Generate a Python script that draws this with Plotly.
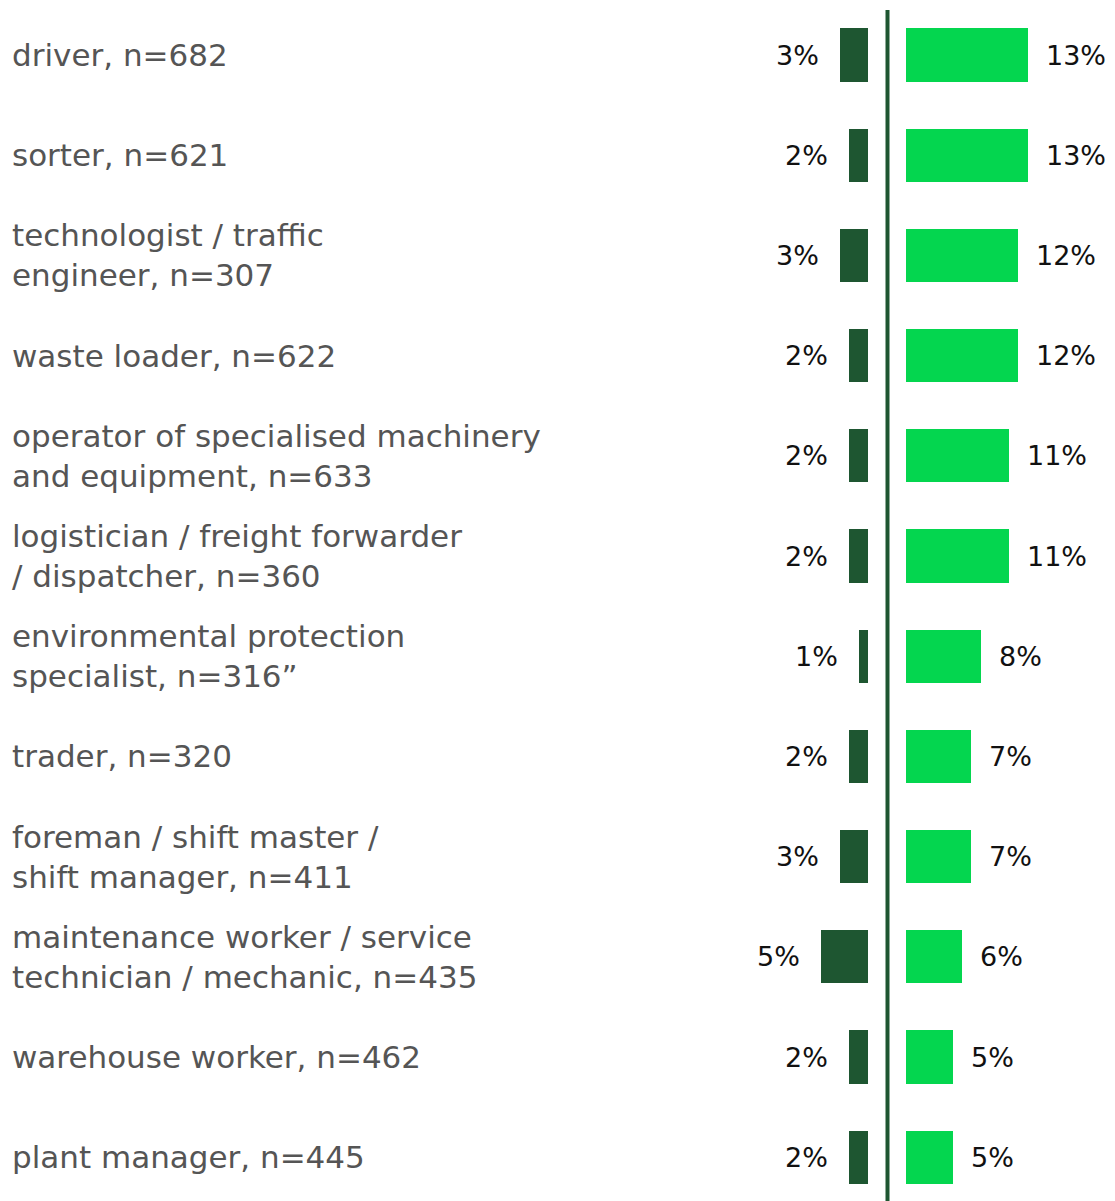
import plotly.graph_objects as go

categories = [
    "driver, n=682",
    "sorter, n=621",
    "technologist / traffic<br>engineer, n=307",
    "waste loader, n=622",
    "operator of specialised machinery<br>and equipment, n=633",
    "logistician / freight forwarder<br>/ dispatcher, n=360",
    "environmental protection<br>specialist, n=316”",
    "trader, n=320",
    "foreman / shift master /<br>shift manager, n=411",
    "maintenance worker / service<br>technician / mechanic, n=435",
    "warehouse worker, n=462",
    "plant manager, n=445",
]
left_values = [3, 2, 3, 2, 2, 2, 1, 2, 3, 5, 2, 2]
right_values = [13, 13, 12, 12, 11, 11, 8, 7, 7, 6, 5, 5]

DARK = "#1e5631"
BRIGHT = "#04d64f"
# page has an 8px body margin, so the figure is drawn 8px in from the window edge
OFF = 8
W, H = 1115 - OFF, 1201 - OFF
PX_PER_PCT = 9.35
ROW_PX = 100.2
FIRST_ROW_PX = 55 - OFF  # centre of first row, figure pixels

rows = list(range(len(categories)))

fig = go.Figure()
fig.add_trace(go.Bar(
    x=left_values, y=rows, orientation="h", xaxis="x", yaxis="y",
    marker=dict(color=DARK, line=dict(width=0)), width=0.53,
    hoverinfo="skip",
))
fig.add_trace(go.Bar(
    x=right_values, y=rows, orientation="h", xaxis="x2", yaxis="y",
    marker=dict(color=BRIGHT, line=dict(width=0)), width=0.53,
    hoverinfo="skip",
))

LABEL_FONT = dict(family="DejaVu Sans", size=31, color="#555555")
PCT_FONT = dict(family="DejaVu Sans", size=27, color="#111111")

annotations = []
for i, label in enumerate(categories):
    annotations.append(dict(
        text=label, xref="paper", x=(10 - OFF) / W, yref="y", y=i,
        xanchor="left", yanchor="middle", align="left", showarrow=False,
        font=LABEL_FONT,
    ))
for i, v in enumerate(left_values):
    annotations.append(dict(
        text=f"{v}%", xref="x", x=v, yref="y", y=i, xanchor="right",
        xshift=-19, showarrow=False, font=PCT_FONT,
    ))
for i, v in enumerate(right_values):
    annotations.append(dict(
        text=f"{v}%", xref="x2", x=v, yref="y", y=i, xanchor="left",
        xshift=16, showarrow=False, font=PCT_FONT,
    ))

left_start = 600 - OFF
left_end = 868 - OFF
right_start = 906 - OFF

fig.update_layout(
    width=W, height=H,
    margin=dict(l=0, r=0, t=0, b=0),
    paper_bgcolor="white", plot_bgcolor="white",
    showlegend=False, bargap=0,
    xaxis=dict(domain=[left_start / W, left_end / W],
               range=[(left_end - left_start) / PX_PER_PCT, 0],
               visible=False, fixedrange=True),
    xaxis2=dict(domain=[right_start / W, 1],
                range=[0, (W - right_start) / PX_PER_PCT],
                visible=False, fixedrange=True),
    yaxis=dict(range=[(H - FIRST_ROW_PX) / ROW_PX, -FIRST_ROW_PX / ROW_PX],
               visible=False, fixedrange=True),
    annotations=annotations,
    shapes=[dict(type="line", xref="paper", yref="paper",
                 x0=(887.5 - OFF) / W, x1=(887.5 - OFF) / W,
                 y0=0, y1=1 - (10 - OFF) / H,
                 line=dict(color=DARK, width=4))],
)

fig.write_html("out.html")
